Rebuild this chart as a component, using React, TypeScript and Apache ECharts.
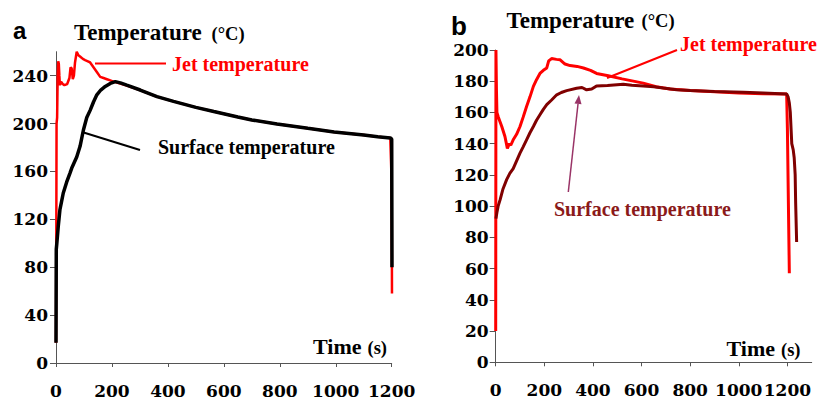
import React, { useEffect, useRef } from "react";
import * as echarts from "echarts";

// ---------- tick labels ----------
const xTickValues = [0, 200, 400, 600, 800, 1000, 1200];
const yTickValuesA = [0, 40, 80, 120, 160, 200, 240];
const yTickValuesB = [0, 20, 40, 60, 80, 100, 120, 140, 160, 180, 200];

// ---------- panel a ----------
const jetATime = [0, 1, 2, 4, 6, 8, 10, 12, 14, 18, 24, 30, 40, 48, 52, 56, 60, 64, 68, 74, 80, 86, 96, 104, 114, 122, 134, 146, 158, 170, 182, 194, 206, 250, 300, 360, 420, 500, 564, 650, 700, 790, 900, 994, 1100, 1150, 1195, 1200, 1201];
const jetATemp = [17, 100, 200, 205, 240, 252, 250, 240, 232, 235, 233, 232, 233, 238, 247, 246, 237, 240, 251, 260, 257, 256, 254, 253, 252, 251, 247, 243, 239, 238, 237, 236, 235, 232, 228, 222.5, 218.5, 213.5, 210, 205.5, 203, 199.6, 196, 193, 190.5, 189, 188, 150, 58];

const surfATime = [0, 1, 3, 8, 14, 20, 26, 38, 50, 56, 74, 86, 98, 110, 122, 134, 146, 160, 176, 194, 212, 230, 253, 301, 361, 420, 500, 564, 650, 700, 790, 900, 994, 1100, 1150, 1195, 1200, 1201];
const surfATemp = [17, 95, 100, 114, 128, 135, 142, 151, 158.6, 162.6, 172, 181, 194.6, 205, 211, 218, 224, 228, 231, 233.5, 235, 234, 232, 228, 222.5, 218.5, 213.5, 210, 205.5, 203, 199.6, 196, 193, 190.5, 189, 188, 187, 80];

// ---------- panel b ----------
const jetBTime = [0, 1, 3, 5, 11, 25, 38, 48, 56, 62, 72, 86, 100, 113, 127, 141, 155, 168, 182, 196, 210, 218, 230, 250, 264, 285, 306, 335, 361, 390, 415, 463, 520, 607, 660, 717, 800, 882, 1000, 1100, 1197, 1200, 1208];
const jetBTemp = [20, 200, 175, 160, 157, 151, 144.6, 137, 140, 139, 142.5, 146, 151, 157, 163.8, 170, 176.7, 181, 185, 187, 188.5, 193, 194.5, 194, 193.8, 191, 190, 189.5, 188.5, 187, 185, 183.5, 181.5, 178.8, 176.5, 175, 174, 173.5, 172.5, 172, 171.8, 150, 57];

const surfBTime = [1, 5, 10, 18, 30, 45, 58, 72, 86, 100, 113, 127, 141, 155, 168, 182, 196, 210, 230, 251, 270, 292, 333, 355, 374, 395, 415, 460, 525, 560, 607, 650, 689, 744, 800, 900, 1019, 1100, 1197, 1203, 1208, 1212, 1218, 1224, 1228, 1232, 1234, 1238];
const surfBTemp = [92, 96, 100, 104, 111, 117, 121, 124, 129, 134, 138, 142.5, 147, 151, 155, 158.5, 162, 165, 168, 171.3, 172.8, 174, 175.5, 176, 174.5, 175, 177, 177.2, 178, 177.5, 177, 176.5, 175.6, 174.5, 174, 173.5, 173, 172.5, 171.8, 170, 166, 160, 140, 136, 131, 120, 102, 77];

const pairs = (t: number[], v: number[]) => t.map((x, i) => [x, v[i]]);

const tickFont = {
  fontFamily: "DejaVu Serif",
  fontWeight: "bold" as const,
  fontSize: 17,
  color: "#000",
  formatter: (v: number) => String(v),
  interval: 0,
  showMinLabel: true,
  showMaxLabel: true,
};
const axisLineStyle = { lineStyle: { color: "#555", width: 1 } };

const serif = "Liberation Serif";

function txt(
  text: string,
  x: number,
  y: number,
  size: number,
  color = "#000",
  family = serif
) {
  return {
    type: "text",
    x,
    y,
    style: {
      text,
      fill: color,
      font: `bold ${size}px "${family}"`,
      align: "left",
      verticalAlign: "middle",
    },
    silent: true,
  };
}

export default function App() {
  const ref = useRef<HTMLDivElement>(null);

  useEffect(() => {
    if (!ref.current) return;
    const chart = echarts.init(ref.current, undefined, { renderer: "svg" });

    const xAxisCommon = {
      type: "value",
      min: 0,
      interval: 200,
      axisLine: { show: true, ...axisLineStyle },
      axisTick: { show: true, length: 4, customValues: xTickValues, lineStyle: { color: "#555" } },
      axisLabel: { ...tickFont, margin: 19, customValues: xTickValues },
      splitLine: { show: false },
    };

    const option = {
      animation: false,
      grid: [
        { left: 56, top: 51.7, width: 335.7, height: 311.3, containLabel: false },
        { left: 495.7, top: 50, width: 316, height: 312.3, containLabel: false },
      ],
      xAxis: [
        { ...xAxisCommon, gridIndex: 0, max: 1200 },
        { ...xAxisCommon, gridIndex: 1, max: 1300 },
      ],
      yAxis: [
        {
          type: "value",
          gridIndex: 0,
          min: 0,
          max: 260,
          interval: 40,
          axisLine: { show: true, ...axisLineStyle },
          axisTick: { show: true, length: 6, customValues: yTickValuesA, lineStyle: { color: "#555" } },
          axisLabel: { ...tickFont, margin: 8, customValues: yTickValuesA },
          splitLine: { show: false },
        },
        {
          type: "value",
          gridIndex: 1,
          min: 0,
          max: 200,
          interval: 20,
          axisLine: { show: true, ...axisLineStyle },
          axisTick: { show: true, length: 6, customValues: yTickValuesB, lineStyle: { color: "#555" } },
          axisLabel: { ...tickFont, margin: 7, customValues: yTickValuesB },
          splitLine: { show: false },
        },
      ],
      series: [
        {
          name: "Jet temperature (a)",
          type: "line",
          xAxisIndex: 0,
          yAxisIndex: 0,
          data: pairs(jetATime, jetATemp),
          showSymbol: false,
          symbol: "none",
          clip: false,
          lineStyle: { color: "#ff0000", width: 2.5 },
          z: 2,
        },
        {
          name: "Surface temperature (a)",
          type: "line",
          xAxisIndex: 0,
          yAxisIndex: 0,
          data: pairs(surfATime, surfATemp),
          showSymbol: false,
          symbol: "none",
          clip: false,
          lineStyle: { color: "#000000", width: 3.5 },
          z: 3,
        },
        {
          name: "Jet temperature (b)",
          type: "line",
          xAxisIndex: 1,
          yAxisIndex: 1,
          data: pairs(jetBTime, jetBTemp),
          showSymbol: false,
          symbol: "none",
          clip: false,
          lineStyle: { color: "#ff0000", width: 3 },
          z: 2,
        },
        {
          name: "Surface temperature (b)",
          type: "line",
          xAxisIndex: 1,
          yAxisIndex: 1,
          data: pairs(surfBTime, surfBTemp),
          showSymbol: false,
          symbol: "none",
          clip: false,
          lineStyle: { color: "#800000", width: 3 },
          z: 3,
        },
      ],
      graphic: [
        // panel letters
        txt("a", 13, 30, 24, "#000", "Liberation Sans"),
        txt("b", 451, 25.5, 26, "#000", "Liberation Sans"),
        // y titles
        txt("Temperature", 74, 32.7, 23),
        txt("(°C)", 211.5, 34, 18.5),
        txt("Temperature", 506.5, 20.1, 23),
        txt("(°C)", 641.5, 21.3, 18.5),
        // x titles
        txt("Time", 313, 346.7, 22),
        txt("(s)", 367.5, 348, 18.5),
        txt("Time", 726.5, 348.4, 22),
        txt("(s)", 781, 349.7, 18.5),
        // annotations panel a
        {
          type: "line",
          shape: { x1: 95, y1: 63.5, x2: 166, y2: 63.5 },
          style: { stroke: "#ff0000", lineWidth: 2 },
          silent: true,
        },
        txt("Jet temperature", 172, 64, 20, "#ff0000"),
        {
          type: "line",
          shape: { x1: 82, y1: 132, x2: 140, y2: 150 },
          style: { stroke: "#000", lineWidth: 2 },
          silent: true,
        },
        txt("Surface temperature", 158, 147, 20, "#000"),
        // annotations panel b
        {
          type: "line",
          shape: { x1: 607, y1: 78, x2: 677, y2: 50 },
          style: { stroke: "#ff0000", lineWidth: 2 },
          silent: true,
        },
        txt("Jet temperature", 680, 44.3, 20, "#ff0000"),
        {
          type: "line",
          shape: { x1: 568.3, y1: 192, x2: 578, y2: 104 },
          style: { stroke: "#993366", lineWidth: 1.5 },
          silent: true,
        },
        {
          type: "polygon",
          shape: { points: [[579, 95], [581.5, 104.3], [574.5, 103.5]] },
          style: { fill: "#993366" },
          silent: true,
        },
        txt("Surface temperature", 554, 209.3, 20, "#8b1a1a"),
      ],
    };

    chart.setOption(option as any);
    return () => chart.dispose();
  }, []);

  return (
    <div
      ref={ref}
      style={{ position: "fixed", left: 0, top: 0, width: 820, height: 399, background: "#fff" }}
    />
  );
}
